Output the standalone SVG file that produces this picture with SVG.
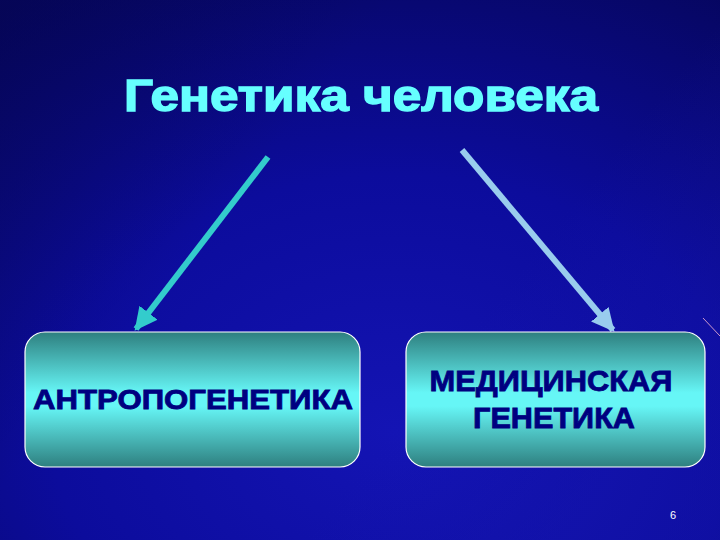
<svg xmlns="http://www.w3.org/2000/svg" width="720" height="540" viewBox="0 0 720 540">
<defs>
<radialGradient id="bg" cx="0.55" cy="0.8" r="0.95">
<stop offset="0" stop-color="#1414B4"/>
<stop offset="0.5" stop-color="#0C0C9C"/>
<stop offset="1" stop-color="#06065E"/>
</radialGradient>
<linearGradient id="streak" x1="0" y1="0" x2="1" y2="0.6">
<stop offset="0" stop-color="#05054F" stop-opacity="0.5"/>
<stop offset="0.4" stop-color="#05054F" stop-opacity="0"/>
<stop offset="0.75" stop-color="#1A1AB8" stop-opacity="0"/>
<stop offset="1" stop-color="#1A1AB8" stop-opacity="0.25"/>
</linearGradient>
<linearGradient id="box" x1="0" y1="0" x2="0" y2="1">
<stop offset="0" stop-color="#2E7F7F"/>
<stop offset="0.45" stop-color="#66F6F6"/>
<stop offset="0.55" stop-color="#66F6F6"/>
<stop offset="1" stop-color="#2E7F7F"/>
</linearGradient>
<marker id="hL" viewBox="0 0 10 10" refX="9" refY="5" markerWidth="3.8" markerHeight="3.8" orient="auto" markerUnits="strokeWidth">
<path d="M0,0 L10,5 L0,10 z" fill="#33CCCC"/>
</marker>
<marker id="hR" viewBox="0 0 10 10" refX="9" refY="5" markerWidth="3.8" markerHeight="3.8" orient="auto" markerUnits="strokeWidth">
<path d="M0,0 L10,5 L0,10 z" fill="#99CCEE"/>
</marker>
</defs>
<style>
.box{fill:url(#box);stroke:#FFFFFF;stroke-width:1.2}
.lbl{font-family:"Liberation Sans",Arial,sans-serif;font-weight:bold;fill:#000080;stroke:#000080;stroke-width:0.8;text-anchor:middle}
</style>
<rect width="720" height="540" fill="url(#bg)"/>
<rect width="720" height="540" fill="url(#streak)"/>
<line x1="703" y1="318" x2="720" y2="336" stroke="#CC99CC" stroke-width="1"/>
<text x="361" y="111" font-family="'Liberation Sans',Arial,sans-serif" font-weight="bold" font-size="45" fill="#66FFFF" stroke="#66FFFF" stroke-width="1.4" text-anchor="middle" textLength="474" lengthAdjust="spacingAndGlyphs">Генетика человека</text>
<g id="connectors">
<line x1="268" y1="157" x2="136" y2="329" stroke="#33CCCC" stroke-width="6" marker-end="url(#hL)"/>
<line x1="462" y1="150" x2="613" y2="330" stroke="#99CCEE" stroke-width="6" marker-end="url(#hR)"/>
</g>
<g id="node-anthropo">
<rect class="box" x="25" y="332" width="335" height="135" rx="20"/>
<text class="lbl" x="193" y="409" font-size="27" textLength="320" lengthAdjust="spacingAndGlyphs">АНТРОПОГЕНЕТИКА</text>
</g>
<g id="node-medical">
<rect class="box" x="406" y="332" width="299" height="135" rx="20"/>
<text class="lbl" x="551" y="391" font-size="29" textLength="243" lengthAdjust="spacingAndGlyphs">МЕДИЦИНСКАЯ</text>
<text class="lbl" x="554" y="428" font-size="29" textLength="162" lengthAdjust="spacingAndGlyphs">ГЕНЕТИКА</text>
</g>
<text x="673" y="519" font-family="'Liberation Sans',Arial,sans-serif" font-size="11" fill="#FFFFFF" text-anchor="middle">6</text>
</svg>
